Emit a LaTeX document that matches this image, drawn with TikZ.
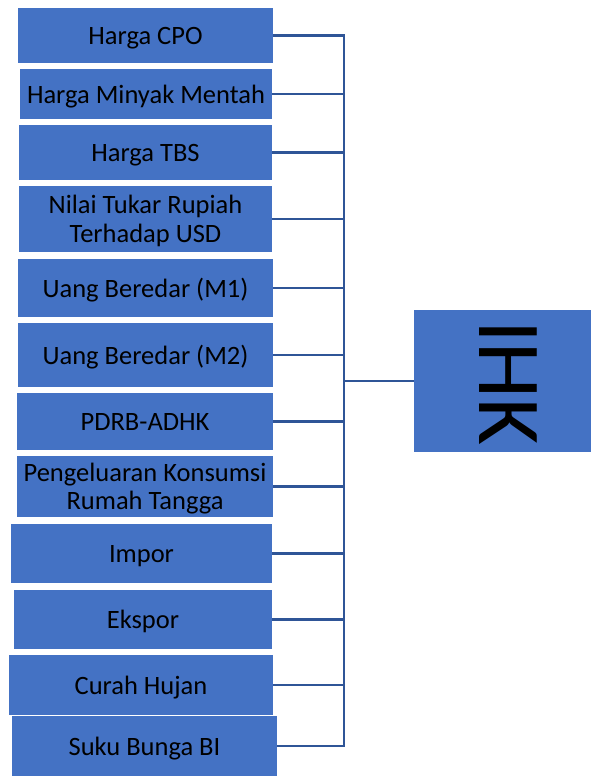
\documentclass[tikz,border=0pt]{standalone}
\usepackage{fontspec}
\setmainfont{Carlito}
\definecolor{boxblue}{HTML}{4472C4}
\definecolor{lineblue}{HTML}{2F5597}
\begin{document}
\begin{tikzpicture}[x=1pt,y=-1pt,
  varbox/.style={fill=boxblue, draw=none, inner sep=0pt, align=center,
    font=\fontsize{26.5}{28.5}\selectfont, text=black, text depth=0pt},
  conn/.style={draw=lineblue, line width=2.6pt}]
\useasboundingbox (0,0) rectangle (591,776);
\node[varbox, minimum width=255pt, minimum height=55pt] (b1) at (145.5,35.5) {Harga CPO};
\node[varbox, minimum width=252pt, minimum height=50pt] (b2) at (146,94) {Harga Minyak Mentah};
\node[varbox, minimum width=253pt, minimum height=55pt] (b3) at (145.5,152.5) {Harga TBS};
\node[varbox, minimum width=253pt, minimum height=66pt] (b4) at (145.5,219) {Nilai Tukar Rupiah\\Terhadap USD};
\node[varbox, minimum width=255pt, minimum height=58pt] (b5) at (145.5,288) {Uang Beredar (M1)};
\node[varbox, minimum width=255pt, minimum height=64pt] (b6) at (145.5,355) {Uang Beredar (M2)};
\node[varbox, minimum width=256pt, minimum height=57pt] (b7) at (145,421.5) {PDRB-ADHK};
\node[varbox, minimum width=256pt, minimum height=61pt] (b8) at (145,486.5) {Pengeluaran Konsumsi\\Rumah Tangga};
\node[varbox, minimum width=261pt, minimum height=59pt] (b9) at (141.5,553.5) {Impor};
\node[varbox, minimum width=258pt, minimum height=59pt] (b10) at (143,619.5) {Ekspor};
\node[varbox, minimum width=264pt, minimum height=60pt] (b11) at (141,685) {Curah Hujan};
\node[varbox, minimum width=265pt, minimum height=60pt] (b12) at (144.5,746) {Suku Bunga BI};
\node[fill=boxblue, draw=none, inner sep=0pt, minimum width=177pt, minimum height=142pt] (ihk) at (502.5,381) {};
\node[rotate=-90, inner sep=0pt, font=\fontsize{90}{90}\selectfont, text=black] (ihktext) at (508,383) {IHK};
\coordinate (j) at (344,381);
\foreach \b in {b1,b2,b3,b4,b5,b6,b7,b8,b9,b10,b11,b12}
  \draw[conn] (\b.east) -| (j) -- (ihk.west);
\end{tikzpicture}
\end{document}
